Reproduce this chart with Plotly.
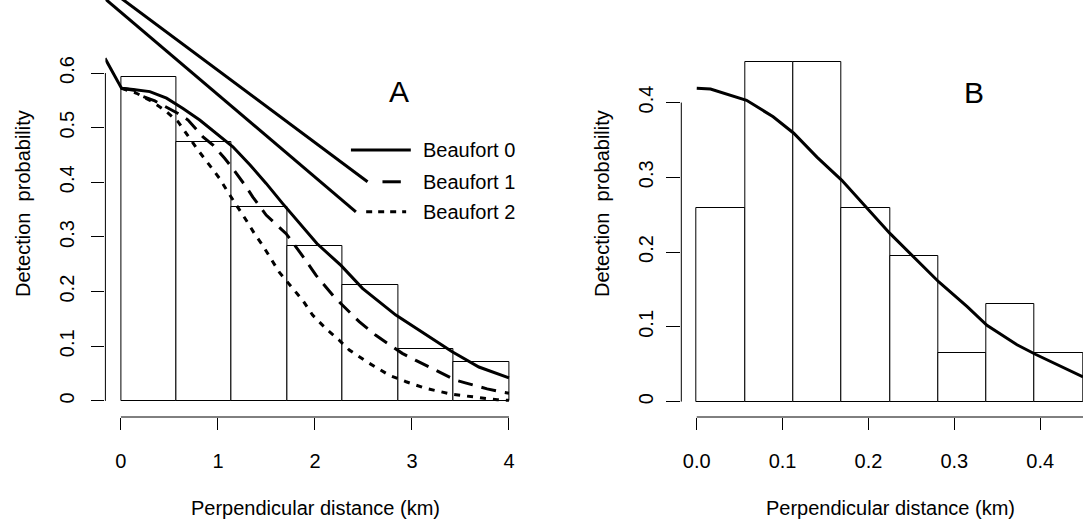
import plotly.graph_objects as go

# ---------------- data ----------------
# panel A: histogram of perpendicular distances (7 bins over 0-4 km)
a_edges = [0, 4 / 7, 8 / 7, 12 / 7, 16 / 7, 20 / 7, 24 / 7, 4]
a_heights = [0.592, 0.474, 0.355, 0.284, 0.213, 0.095, 0.071]

# fitted detection curves, one per Beaufort state
b0_x = [-0.164, 0.007, 0.126, 0.298, 0.47, 0.64, 0.812, 0.984, 1.154, 1.329,
        1.497, 1.668, 1.84, 2.02, 2.268, 2.49, 2.834, 3.176, 3.415, 3.69, 4.0]
b0_y = [0.627, 0.572, 0.570, 0.566, 0.554, 0.535, 0.514, 0.490, 0.465, 0.432,
        0.398, 0.361, 0.325, 0.288, 0.248, 0.206, 0.157, 0.117, 0.090, 0.062, 0.042]

b1_x = [0.007, 0.15, 0.229, 0.35, 0.589, 0.692, 0.846, 0.949, 1.069, 1.154,
        1.29, 1.36, 1.497, 1.583, 1.703, 1.89, 2.01, 2.2, 2.37, 2.456, 2.628,
        2.73, 2.9, 3.04, 3.28, 3.45, 3.55, 3.775, 3.93, 4.0]
b1_y = [0.572, 0.568, 0.557, 0.549, 0.526, 0.514, 0.483, 0.468, 0.444, 0.425,
        0.392, 0.373, 0.340, 0.325, 0.306, 0.261, 0.230, 0.190, 0.160, 0.145, 0.120,
        0.108, 0.087, 0.074, 0.053, 0.038, 0.033, 0.022, 0.016, 0.014]

b2_x = [0.007, 0.161, 0.3, 0.452, 0.589, 0.794, 0.915, 1.017, 1.10, 1.205,
        1.29, 1.377, 1.46, 1.634, 1.77, 1.874, 1.976, 2.114, 2.25, 2.354,
        2.54, 2.765, 2.94, 3.14, 3.415, 3.69, 3.88, 4.0]
b2_y = [0.572, 0.563, 0.550, 0.532, 0.511, 0.459, 0.431, 0.407, 0.383, 0.355,
        0.331, 0.306, 0.285, 0.235, 0.206, 0.184, 0.157, 0.132, 0.111, 0.093,
        0.071, 0.047, 0.035, 0.023, 0.012, 0.006, 0.002, 0.001]

# the two long strokes running into the legend, and the legend keys
stroke1_x = [-0.097, 2.542]
stroke1_y = [0.75, 0.401]
stroke2_x = [-0.257, 2.422]
stroke2_y = [0.75, 0.346]
key0_x = [2.371, 2.988]
key1_x = [2.696, 2.885]
key2_x = [2.528, 2.94]
key_y = [0.459, 0.401, 0.346]
legend_labels = ["Beaufort 0", "Beaufort 1", "Beaufort 2"]

# panel B: histogram (8 bins over 0-0.45 km) and fitted curve
b_edges = [0, 0.05625, 0.1125, 0.16875, 0.225, 0.28125, 0.3375, 0.39375, 0.45]
b_heights = [0.259, 0.454, 0.454, 0.259, 0.195, 0.065, 0.130, 0.065]

bc_x = [0.0, 0.016, 0.058, 0.089, 0.113, 0.14, 0.169, 0.225, 0.282, 0.315,
        0.338, 0.373, 0.395, 0.45]
bc_y = [0.419, 0.418, 0.403, 0.381, 0.359, 0.327, 0.296, 0.225, 0.160, 0.127,
        0.102, 0.076, 0.063, 0.033]

a_xticks = [0, 1, 2, 3, 4]
a_yticks = [0, 0.1, 0.2, 0.3, 0.4, 0.5, 0.6]
a_ytext = ["0", "0.1", "0.2", "0.3", "0.4", "0.5", "0.6"]
b_xticks = [0, 0.1, 0.2, 0.3, 0.4]
b_xtext = ["0.0", "0.1", "0.2", "0.3", "0.4"]
b_yticks = [0, 0.1, 0.2, 0.3, 0.4]
b_ytext = ["0", "0.1", "0.2", "0.3", "0.4"]

# ---------------- figure ----------------
W, H = 1083, 529
FONT = "Liberation Sans, Arial, sans-serif"
PLOT_H = 417  # height of the plotting strip (margin bottom = H - PLOT_H)


def mids(edges):
    return [(a + b) / 2 for a, b in zip(edges[:-1], edges[1:])]


def widths(edges):
    return [b - a for a, b in zip(edges[:-1], edges[1:])]


fig = go.Figure()

# histograms
for edges, heights, xa, ya in [(a_edges, a_heights, "x", "y"),
                               (b_edges, b_heights, "x2", "y2")]:
    fig.add_trace(go.Bar(
        x=mids(edges), y=heights, width=widths(edges),
        marker=dict(color="white", line=dict(color="black", width=1)),
        xaxis=xa, yaxis=ya, showlegend=False, hoverinfo="skip",
    ))

# curves panel A
fig.add_trace(go.Scatter(x=b0_x, y=b0_y, mode="lines",
                         line=dict(color="black", width=3), showlegend=False))
fig.add_trace(go.Scatter(x=b1_x, y=b1_y, mode="lines",
                         line=dict(color="black", width=3, dash="15px,9px"), showlegend=False))
fig.add_trace(go.Scatter(x=b2_x, y=b2_y, mode="lines",
                         line=dict(color="black", width=3, dash="6px,7px"), showlegend=False))

# strokes + legend keys
for sx, sy in [(stroke1_x, stroke1_y), (stroke2_x, stroke2_y)]:
    fig.add_trace(go.Scatter(x=sx, y=sy, mode="lines",
                             line=dict(color="black", width=3), showlegend=False))
fig.add_trace(go.Scatter(x=key0_x, y=[key_y[0]] * 2, mode="lines",
                         line=dict(color="black", width=3), showlegend=False))
fig.add_trace(go.Scatter(x=key1_x, y=[key_y[1]] * 2, mode="lines",
                         line=dict(color="black", width=3), showlegend=False))
fig.add_trace(go.Scatter(x=key2_x, y=[key_y[2]] * 2, mode="lines",
                         line=dict(color="black", width=3, dash="6px,6px"), showlegend=False))

# curve panel B
fig.add_trace(go.Scatter(x=bc_x, y=bc_y, mode="lines", xaxis="x2", yaxis="y2",
                         line=dict(color="black", width=3), showlegend=False))

tickfont = dict(family=FONT, size=20, color="black")
axis_common = dict(showgrid=False, zeroline=False, showline=False, ticks="outside",
                   tickcolor="black", tickwidth=1, tickfont=tickfont, fixedrange=True)

fig.update_layout(
    width=W, height=H,
    margin=dict(l=0, r=0, t=0, b=H - PLOT_H),
    paper_bgcolor="white", plot_bgcolor="white",
    bargap=0, showlegend=False,
    font=dict(family=FONT, size=20, color="black"),
    xaxis=dict(domain=[105.4 / W, 524.5 / W], range=[-0.16, 4.16],
               tickvals=a_xticks, ticklen=12, ticklabelstandoff=14, anchor="y", **axis_common),
    yaxis=dict(domain=[0, 1], range=[-0.0295, 0.7337],
               tickvals=a_yticks, ticktext=a_ytext, tickangle=-90, ticklen=13,
               ticklabelstandoff=9, anchor="x", **axis_common),
    xaxis2=dict(domain=[681.3 / W, 1.0], range=[-0.018, 0.4499],
                tickvals=b_xticks, ticktext=b_xtext, ticklen=12, ticklabelstandoff=14,
                anchor="y2", **axis_common),
    yaxis2=dict(domain=[0, 1], range=[-0.0206, 0.5372],
                tickvals=b_yticks, ticktext=b_ytext, tickangle=-90, ticklen=14,
                ticklabelstandoff=5, anchor="x2", **axis_common),
)

# R-style axis lines that span only the tick range
line_style = dict(color="black", width=1)
fig.add_shape(type="line", xref="x", yref="y domain", x0=a_xticks[0], x1=a_xticks[-1],
              y0=0, y1=0, line=line_style)
fig.add_shape(type="line", xref="x domain", yref="y", x0=0, x1=0,
              y0=a_yticks[0], y1=a_yticks[-1], line=line_style)
fig.add_shape(type="line", xref="x2", yref="y2 domain", x0=b_xticks[0], x1=0.4499,
              y0=0, y1=0, line=line_style)
fig.add_shape(type="line", xref="x2 domain", yref="y2", x0=0, x1=0,
              y0=b_yticks[0], y1=b_yticks[-1], line=line_style)


def py(p):
    return (PLOT_H - p) / PLOT_H


# axis titles
for cx in (315, 890):
    fig.add_annotation(text="Perpendicular distance (km)", xref="paper", yref="paper",
                       x=cx / W, y=py(508), showarrow=False, xanchor="center",
                       yanchor="middle", font=dict(size=20))
for cx in (23, 602):
    fig.add_annotation(text="Detection  probability", xref="paper", yref="paper",
                       x=cx / W, y=py(204), showarrow=False, textangle=-90,
                       xanchor="center", yanchor="middle", font=dict(size=20))

# panel letters
fig.add_annotation(text="A", x=2.864, y=0.566, xref="x", yref="y", showarrow=False,
                   font=dict(size=30))
fig.add_annotation(text="B", x=0.3224, y=0.414, xref="x2", yref="y2", showarrow=False,
                   font=dict(size=30))

# legend labels
for label, ly in zip(legend_labels, key_y):
    fig.add_annotation(text=label, x=3.09, y=ly, xref="x", yref="y", showarrow=False,
                       xanchor="left", yanchor="middle", font=dict(size=20))

# drop the browser's default body margin so the figure sits at the page corner
fig.write_html("out.html", config={"displayModeBar": False},
               post_script="document.body.style.margin='0';document.body.style.overflow='hidden';")
